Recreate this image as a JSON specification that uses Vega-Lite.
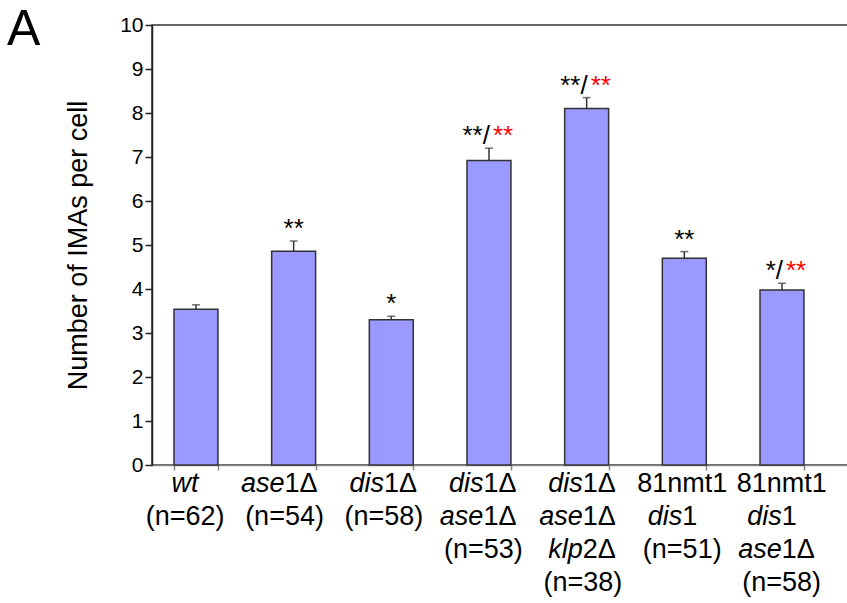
{
  "$schema": "https://vega.github.io/schema/vega-lite/v6.json",
  "autosize": {"type": "pad"},
  "padding": {"left": 6, "top": 4, "right": 0, "bottom": 0},
  "background": "white",
  "config": {"font": "Liberation Sans", "view": {"stroke": null}},
  "datasets": {
    "bars": [
      {"cat": "wt", "v": 3.54, "up": 3.64},
      {"cat": "ase1", "v": 4.86, "up": 5.09},
      {"cat": "dis1", "v": 3.30, "up": 3.38},
      {"cat": "dis1ase1", "v": 6.92, "up": 7.20},
      {"cat": "klp2", "v": 8.10, "up": 8.35},
      {"cat": "nmt", "v": 4.70, "up": 4.85},
      {"cat": "nmtase1", "v": 3.98, "up": 4.13}
    ],
    "sig": [
      {"cat": "ase1", "up": 5.09, "black": "**", "red": ""},
      {"cat": "dis1", "up": 3.38, "black": "*", "red": ""},
      {"cat": "dis1ase1", "up": 7.20, "black": "**/", "red": "**"},
      {"cat": "klp2", "up": 8.35, "black": "**/", "red": "**"},
      {"cat": "nmt", "up": 4.85, "black": "**", "red": ""},
      {"cat": "nmtase1", "up": 4.13, "black": "*/", "red": "**"}
    ],
    "labels": [
      {"cat": "wt", "line": 1, "text": "wt", "part": "italic"},
      {"cat": "wt", "line": 2, "text": "(n=62)", "part": "plain"},
      {"cat": "ase1", "line": 1, "text": "ase", "part": "gene"},
      {"cat": "ase1", "line": 1, "text": "1Δ", "part": "suffix"},
      {"cat": "ase1", "line": 2, "text": "(n=54)", "part": "plain"},
      {"cat": "dis1", "line": 1, "text": "dis", "part": "gene"},
      {"cat": "dis1", "line": 1, "text": "1Δ", "part": "suffix"},
      {"cat": "dis1", "line": 2, "text": "(n=58)", "part": "plain"},
      {"cat": "dis1ase1", "line": 1, "text": "dis", "part": "gene"},
      {"cat": "dis1ase1", "line": 1, "text": "1Δ", "part": "suffix"},
      {"cat": "dis1ase1", "line": 2, "text": "ase", "part": "gene"},
      {"cat": "dis1ase1", "line": 2, "text": "1Δ", "part": "suffix"},
      {"cat": "dis1ase1", "line": 3, "text": "(n=53)", "part": "plain"},
      {"cat": "klp2", "line": 1, "text": "dis", "part": "gene"},
      {"cat": "klp2", "line": 1, "text": "1Δ", "part": "suffix"},
      {"cat": "klp2", "line": 2, "text": "ase", "part": "gene"},
      {"cat": "klp2", "line": 2, "text": "1Δ", "part": "suffix"},
      {"cat": "klp2", "line": 3, "text": "klp", "part": "gene"},
      {"cat": "klp2", "line": 3, "text": "2Δ", "part": "suffix"},
      {"cat": "klp2", "line": 4, "text": "(n=38)", "part": "plain"},
      {"cat": "nmt", "line": 1, "text": "81nmt1", "part": "plain"},
      {"cat": "nmt", "line": 2, "text": "dis", "part": "gene"},
      {"cat": "nmt", "line": 2, "text": "1", "part": "suffix"},
      {"cat": "nmt", "line": 3, "text": "(n=51)", "part": "plain"},
      {"cat": "nmtase1", "line": 1, "text": "81nmt1", "part": "plain"},
      {"cat": "nmtase1", "line": 2, "text": "dis", "part": "gene"},
      {"cat": "nmtase1", "line": 2, "text": "1", "part": "suffix"},
      {"cat": "nmtase1", "line": 3, "text": "ase", "part": "gene"},
      {"cat": "nmtase1", "line": 3, "text": "1Δ", "part": "suffix"},
      {"cat": "nmtase1", "line": 4, "text": "(n=58)", "part": "plain"}
    ]
  },
  "vconcat": [
    {
      "width": 696,
      "height": 440,
      "view": {"stroke": "#333333", "strokeWidth": 1.5},
      "title": {"text": "A", "anchor": "start", "frame": "group", "fontSize": 50, "fontWeight": "normal", "color": "black", "baseline": "alphabetic", "offset": 0, "dx": -145, "dy": 81},
      "encoding": {
        "x": {
          "field": "cat", "type": "nominal",
          "scale": {"domain": ["wt", "ase1", "dis1", "dis1ase1", "klp2", "nmt", "nmtase1"], "paddingInner": 0.55, "paddingOuter": 0.338, "align": 0.333},
          "axis": {"labels": false, "title": null, "tickBand": "extent", "tickSize": 5, "tickColor": "#888888", "tickWidth": 1.5, "domainColor": "#888888", "domainWidth": 1.5, "grid": false}
        }
      },
      "layer": [
        {
          "data": {"name": "bars"},
          "mark": {"type": "bar", "fill": "#9999FF", "stroke": "#333333", "strokeWidth": 1.5},
          "encoding": {
            "y": {
              "field": "v", "type": "quantitative",
              "scale": {"domain": [0, 10], "nice": false},
              "axis": {"values": [0, 1, 2, 3, 4, 5, 6, 7, 8, 9, 10], "title": "Number of IMAs per cell", "titleFontSize": 27, "titleFontWeight": "normal", "titleColor": "black", "titlePadding": 27, "labelFontSize": 21, "labelColor": "black", "labelPadding": 2, "tickSize": 7, "tickColor": "#222222", "tickWidth": 1.5, "domainColor": "#222222", "domainWidth": 1.5, "grid": false}
            }
          }
        },
        {
          "data": {"name": "bars"},
          "mark": {"type": "rule", "color": "#333333", "strokeWidth": 1.5},
          "encoding": {"y": {"field": "v", "type": "quantitative"}, "y2": {"field": "up"}}
        },
        {
          "data": {"name": "bars"},
          "mark": {"type": "tick", "color": "#333333", "size": 8, "thickness": 1.5},
          "encoding": {"y": {"field": "up", "type": "quantitative"}}
        },
        {
          "data": {"name": "sig"},
          "transform": [{"filter": "datum.red == ''"}],
          "mark": {"type": "text", "fontSize": 26, "color": "black", "align": "center", "baseline": "alphabetic", "dy": -4},
          "encoding": {"y": {"field": "up", "type": "quantitative"}, "text": {"field": "black"}}
        },
        {
          "data": {"name": "sig"},
          "transform": [{"filter": "datum.red != ''"}],
          "mark": {"type": "text", "fontSize": 26, "color": "black", "align": "right", "baseline": "alphabetic", "dy": -4, "dx": 1},
          "encoding": {"y": {"field": "up", "type": "quantitative"}, "text": {"field": "black"}}
        },
        {
          "data": {"name": "sig"},
          "transform": [{"filter": "datum.red != ''"}],
          "mark": {"type": "text", "fontSize": 26, "color": "#FF0000", "align": "left", "baseline": "alphabetic", "dy": -4, "dx": 4},
          "encoding": {"y": {"field": "up", "type": "quantitative"}, "text": {"field": "red"}}
        }
      ]
    },
    {
      "width": 696,
      "height": 132,
      "data": {"name": "labels"},
      "encoding": {
        "x": {
          "field": "cat", "type": "nominal",
          "scale": {"domain": ["wt", "ase1", "dis1", "dis1ase1", "klp2", "nmt", "nmtase1"], "paddingInner": 0.55, "paddingOuter": 0.338, "align": 0.333},
          "axis": null
        },
        "y": {"field": "line", "type": "ordinal", "scale": {"type": "point", "domain": [1, 2, 3, 4], "padding": 0.5}, "axis": null},
        "text": {"field": "text"}
      },
      "layer": [
        {"transform": [{"filter": "datum.part == 'italic'"}], "mark": {"type": "text", "fontSize": 27, "fontStyle": "italic", "color": "black", "align": "center", "baseline": "middle"}},
        {"transform": [{"filter": "datum.part == 'plain'"}], "mark": {"type": "text", "fontSize": 27, "color": "black", "align": "center", "baseline": "middle"}},
        {"transform": [{"filter": "datum.part == 'gene'"}], "mark": {"type": "text", "fontSize": 27, "fontStyle": "italic", "color": "black", "align": "right", "baseline": "middle"}},
        {"transform": [{"filter": "datum.part == 'suffix'"}], "mark": {"type": "text", "fontSize": 27, "color": "black", "align": "left", "baseline": "middle"}}
      ]
    }
  ],
  "spacing": 2,
  "bounds": "flush"
}
